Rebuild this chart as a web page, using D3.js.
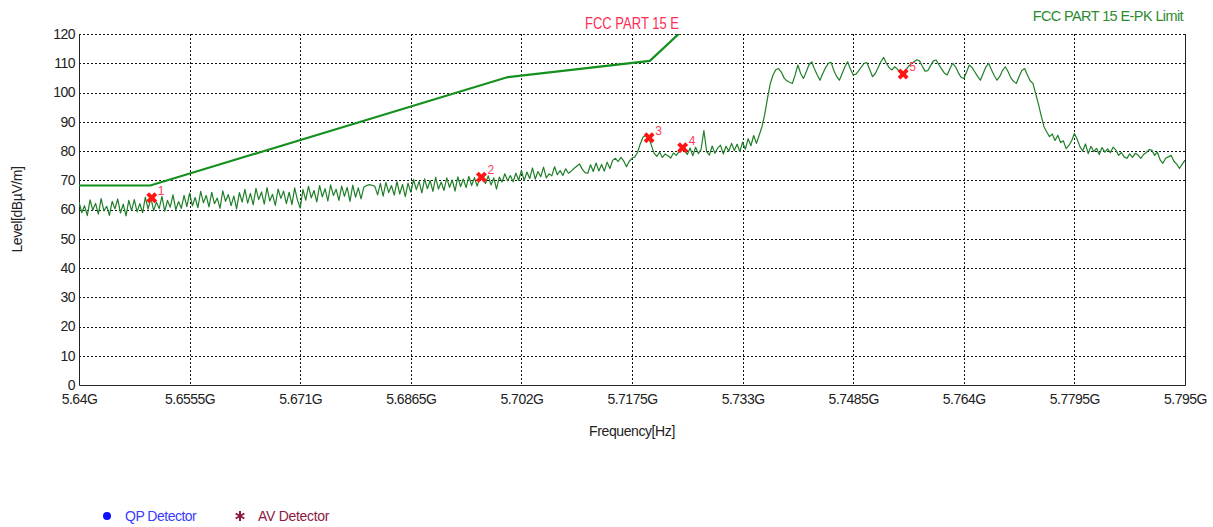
<!DOCTYPE html>
<html>
<head>
<meta charset="utf-8">
<script src="https://cdn.jsdelivr.net/npm/d3@7"></script>
<style>
  html, body { margin: 0; padding: 0; background: #fff; }
  svg { display: block; }
  text { font-family: "Liberation Sans", Arial, sans-serif; }
</style>
</head>
<body>
<svg id="chart" width="1213" height="527"></svg>
<script>
// ---------------- DATA ----------------
const sweepStart = 5.64;     // GHz
const sweepStop = 5.795;     // GHz

const xTickValues = [5.64, 5.6555, 5.671, 5.6865, 5.702, 5.7175, 5.733, 5.7485, 5.764, 5.7795, 5.795];
const xTickLabels = ["5.64G", "5.6555G", "5.671G", "5.6865G", "5.702G", "5.7175G", "5.733G", "5.7485G", "5.764G", "5.7795G", "5.795G"];
const yTickValues = [0, 10, 20, 30, 40, 50, 60, 70, 80, 90, 100, 110, 120];

// FCC PART 15 E-PK limit (GHz, dBuV/m)
const limitFreq = [5.64, 5.65, 5.70, 5.72, 5.725, 5.795];
const limitLevel = [68.2, 68.2, 105.2, 110.8, 122.2, 122.2];

// Peak trace, 401 equally spaced sweep points (dBuV/m)
const traceLevel = [
  62.6, 58.9, 61.3, 57.9, 63.3, 59.8, 62.1, 58.4, 63.7, 59.5, 61.1, 58.0, 62.8, 60.2, 63.6, 58.8, 61.8, 57.8, 63.1, 59.6,
  63.4, 59.2, 62.0, 58.9, 64.2, 60.1, 64.0, 59.6, 62.5, 60.3, 64.5, 59.4, 63.1, 60.8, 65.0, 59.9, 62.7, 60.4, 64.8, 61.0,
  65.6, 61.2, 64.1, 60.6, 66.2, 62.3, 64.8, 60.9, 65.9, 62.0, 63.9, 60.4, 66.4, 62.8, 65.1, 61.3, 64.6, 60.2, 65.8, 62.5,
  66.9, 62.2, 65.5, 61.6, 67.2, 63.4, 66.0, 61.8, 67.5, 62.9, 65.2, 61.4, 67.0, 63.8, 66.3, 62.0, 65.9, 61.7, 67.4, 63.2,
  60.5, 66.8, 63.2, 67.9, 64.0, 66.5, 62.6, 68.2, 64.3, 67.1, 62.9, 68.4, 64.8, 66.9, 63.1, 68.0, 64.5, 67.6, 62.8, 68.3,
  64.2, 67.4, 63.6, 67.6, 68.2, 68.5, 68.3, 67.9, 65.0, 68.9, 64.6, 69.3, 65.8, 68.2, 64.9, 69.5, 65.3, 68.6, 64.4, 69.0,
  65.9, 70.2, 66.8, 69.6, 65.7, 70.5, 67.1, 69.9, 66.2, 71.0, 67.0, 69.4, 66.5, 70.8, 67.6, 70.1, 66.3, 71.2, 67.8, 70.4,
  67.5, 71.3, 68.2, 70.9, 68.0, 71.0, 70.6, 68.9, 71.5, 68.4, 70.8, 67.0, 71.1, 69.4, 72.2, 69.8, 71.6, 69.5, 72.4, 70.0,
  73.4, 69.9, 72.8, 70.6, 74.2, 70.4, 73.0, 71.2, 74.5, 70.8, 72.2, 71.5, 74.6, 71.9, 73.3, 71.6, 73.9, 72.4, 73.1, 74.0,
  74.8, 75.6, 73.8, 72.6, 72.4, 75.3, 73.0, 75.9, 73.2, 75.4, 73.1, 76.2, 74.0, 76.8, 77.5, 76.4, 77.8, 76.6, 74.6, 76.5,
  77.5, 78.0, 79.5, 82.5, 84.8, 85.2, 84.6, 82.0, 79.2, 78.2, 79.6, 77.8, 79.0, 78.4, 77.6, 79.3, 78.5, 79.8, 81.0, 80.3,
  78.8, 81.0, 78.4, 81.3, 79.1, 80.6, 87.0, 79.8, 78.6, 81.7, 79.2, 81.0, 82.0, 79.0, 81.6, 79.9, 82.6, 80.2, 82.3, 79.8,
  83.0, 80.6, 84.2, 81.8, 85.3, 82.6, 85.4, 88.3, 92.5, 98.0, 103.0, 106.0, 107.8, 108.2, 107.0, 105.0, 104.0, 103.5, 103.1, 106.0,
  109.4, 106.5, 104.8, 107.0, 109.5, 110.5, 108.0, 106.0, 104.2, 106.5, 108.5, 110.0, 110.3, 107.5, 105.5, 104.2, 106.5, 108.8, 110.5, 108.0,
  106.0, 106.3, 107.5, 108.8, 110.0, 110.2, 107.8, 105.4, 106.5, 108.5, 110.5, 112.0, 110.0, 108.5, 107.7, 108.8, 108.0, 106.8, 106.3, 107.5,
  109.0, 109.8, 110.5, 111.2, 110.8, 109.0, 107.3, 107.5, 109.2, 110.8, 111.1, 109.5, 108.0, 106.6, 106.0, 108.2, 110.0, 108.8, 106.8, 105.2,
  104.8, 107.0, 109.4, 108.5, 107.0, 105.5, 104.2, 106.5, 108.8, 110.0, 107.8, 105.8, 104.2, 105.5, 107.5, 108.8, 107.2, 105.0, 103.8, 103.1,
  105.5, 107.5, 108.2, 106.0, 104.0, 103.1, 99.5, 96.0, 92.0, 88.3, 86.5, 84.9, 85.8, 83.6, 85.4, 82.9, 83.5, 80.8, 81.9, 83.5,
  86.0, 84.0, 81.5, 80.0, 82.4, 79.1, 81.6, 79.8, 80.9, 78.8, 81.2, 79.6, 80.7, 79.4, 81.3, 80.3, 78.5, 79.5, 78.0, 77.5,
  79.0, 77.8, 79.2, 78.6, 77.5, 78.8, 79.5, 80.5, 80.3, 78.5, 79.6, 77.0, 75.8, 77.5, 78.0, 78.5, 76.5, 75.5, 74.0, 75.5,
  76.9
];

// Peak markers
const markerIds = ["1", "2", "3", "4", "5"];
const markerFreq = [5.6502, 5.6964, 5.7199, 5.7246, 5.7555];
const markerLevel = [64.0, 71.0, 84.5, 81.1, 106.3];

const legendLabels = ["QP Detector", "AV Detector"];

// ---------------- LAYOUT ----------------
const svg = d3.select("#chart");
const plot = { left: 79, right: 1185, top: 34, bottom: 385 };

const x = d3.scaleLinear().domain([sweepStart, sweepStop]).range([plot.left, plot.right]);
const y = d3.scaleLinear().domain([0, 120]).range([plot.bottom, plot.top]);

svg.append("defs").append("clipPath").attr("id", "plotClip")
  .append("rect")
  .attr("x", plot.left).attr("y", plot.top)
  .attr("width", plot.right - plot.left).attr("height", plot.bottom - plot.top);

// gridlines
const grid = svg.append("g").attr("class", "grid");
grid.selectAll("line.h").data(yTickValues.filter(v => v > 0)).join("line")
  .attr("x1", plot.left).attr("x2", plot.right)
  .attr("y1", d => Math.round(y(d)) + 0.5).attr("y2", d => Math.round(y(d)) + 0.5)
  .attr("stroke", "#111").attr("stroke-width", 1).attr("stroke-dasharray", "2,2");
grid.selectAll("line.v").data(xTickValues.slice(1, -1)).join("line")
  .attr("x1", d => Math.round(x(d)) + 0.5).attr("x2", d => Math.round(x(d)) + 0.5)
  .attr("y1", plot.top).attr("y2", plot.bottom)
  .attr("stroke", "#111").attr("stroke-width", 1).attr("stroke-dasharray", "2,2");

// frame: left, bottom, right solid
svg.append("path")
  .attr("d", `M${plot.left + 0.5},${plot.top}V${plot.bottom + 0.5}H${plot.right + 0.5}V${plot.top}`)
  .attr("fill", "none").attr("stroke", "#222").attr("stroke-width", 1);

// axes (labels only)
const yAxis = d3.axisLeft(y).tickValues(yTickValues).tickSize(0).tickPadding(4);
const gy = svg.append("g").attr("transform", `translate(${plot.left},0)`).call(yAxis);
gy.select(".domain").remove();
gy.selectAll("text").attr("font-size", 14).attr("fill", "#222")
  .style("letter-spacing", "-0.5px").style("font-family", "'Liberation Sans', Arial, sans-serif");

const xAxis = d3.axisBottom(x).tickValues(xTickValues).tickSize(0).tickPadding(9)
  .tickFormat((d, i) => xTickLabels[i]);
const gx = svg.append("g").attr("transform", `translate(0,${plot.bottom})`).call(xAxis);
gx.select(".domain").remove();
gx.selectAll("text").attr("font-size", 14).attr("fill", "#222")
  .style("letter-spacing", "-0.5px").style("font-family", "'Liberation Sans', Arial, sans-serif");

// axis titles
svg.append("text").attr("x", 632).attr("y", 436).attr("text-anchor", "middle")
  .attr("font-size", 14).attr("fill", "#222").style("letter-spacing", "-0.4px")
  .text("Frequency[Hz]");
svg.append("text").attr("transform", `translate(22,${(plot.top + plot.bottom) / 2}) rotate(-90)`)
  .attr("text-anchor", "middle").attr("font-size", 14).attr("fill", "#222")
  .style("letter-spacing", "-0.4px")
  .text("Level[dBµV/m]");

// limit line
const limitData = limitFreq.map((f, i) => [f, limitLevel[i]]);
svg.append("path").datum(limitData)
  .attr("clip-path", "url(#plotClip)")
  .attr("fill", "none").attr("stroke", "#14901e").attr("stroke-width", 2.2)
  .attr("d", d3.line().x(d => x(d[0])).y(d => y(d[1])));

// trace
const step = (sweepStop - sweepStart) / (traceLevel.length - 1);
const traceData = traceLevel.map((v, i) => [sweepStart + i * step, v]);
svg.append("path").datum(traceData)
  .attr("clip-path", "url(#plotClip)")
  .attr("fill", "none").attr("stroke", "#1f7f28").attr("stroke-width", 1.2)
  .attr("stroke-linejoin", "round")
  .attr("d", d3.line().x(d => x(d[0])).y(d => y(d[1])));

// markers
const markers = markerIds.map((id, i) => ({ id, f: markerFreq[i], v: markerLevel[i] }));
const mg = svg.append("g");
mg.selectAll("path").data(markers).join("path")
  .attr("transform", d => `translate(${x(d.f)},${y(d.v)}) rotate(45)`)
  .attr("d", d3.symbol().type(d3.symbolCross).size(75))
  .attr("fill", "#ff1414");
mg.selectAll("text").data(markers).join("text")
  .attr("x", d => x(d.f) + 6).attr("y", d => y(d.v) - 3)
  .attr("font-size", 12).attr("fill", "#ff3a5a")
  .text(d => d.id);

// titles
svg.append("text").attr("x", 585).attr("y", 28.5)
  .attr("font-size", 16).attr("fill", "#ff2d55")
  .attr("textLength", 94).attr("lengthAdjust", "spacingAndGlyphs")
  .text("FCC PART 15 E");
svg.append("text").attr("x", 1183).attr("y", 20.5).attr("text-anchor", "end")
  .attr("font-size", 14.5).attr("fill", "#2f8a2f")
  .style("letter-spacing", "-0.6px")
  .text("FCC PART 15 E-PK Limit");

// legend
const lg = svg.append("g");
lg.append("circle").attr("cx", 107).attr("cy", 516).attr("r", 4).attr("fill", "#1010ff");
lg.append("text").attr("x", 125).attr("y", 521).attr("font-size", 14).attr("fill", "#3a3aff")
  .style("letter-spacing", "-0.5px").text(legendLabels[0]);
lg.append("path").attr("transform", "translate(240,516)")
  .attr("d", d3.symbol().type(d3.symbolAsterisk).size(70))
  .attr("fill", "#8b1a3a").attr("stroke", "#8b1a3a").attr("stroke-width", 2);
lg.append("text").attr("x", 258).attr("y", 521).attr("font-size", 14).attr("fill", "#8b1a44")
  .style("letter-spacing", "-0.3px").text(legendLabels[1]);
</script>
</body>
</html>
